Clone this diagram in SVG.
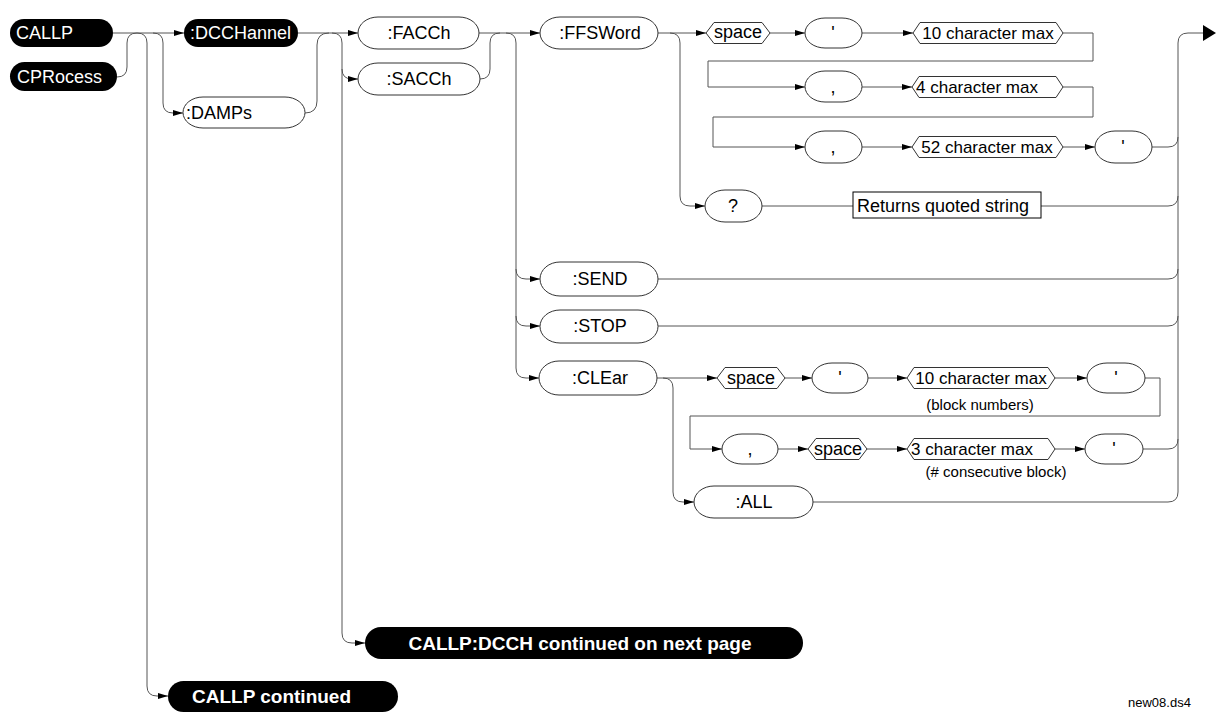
<svg xmlns="http://www.w3.org/2000/svg" width="1216" height="714" viewBox="0 0 1216 714">
<style>
.bg{fill:#fff}
.blk{fill:#000}
.wht{fill:#fff;stroke:#333;stroke-width:1}
.box{fill:#fff;stroke:#000;stroke-width:1}
.ln{fill:none;stroke:#555;stroke-width:1}
.t{font-family:"Liberation Sans",Arial,sans-serif;font-size:18px;fill:#000}
.tw{font-family:"Liberation Sans",Arial,sans-serif;font-size:18px;fill:#fff}
.tb{font-family:"Liberation Sans",Arial,sans-serif;font-size:19px;font-weight:bold;fill:#fff}
.ts{font-family:"Liberation Sans",Arial,sans-serif;font-size:17px;fill:#000}
.tp{font-family:"Liberation Sans",Arial,sans-serif;font-size:15px;fill:#000}
.tf{font-family:"Liberation Sans",Arial,sans-serif;font-size:13px;fill:#000}
.m{text-anchor:middle}
</style>
<defs>
<marker id="a" viewBox="0 0 10 6" refX="10" refY="3" markerWidth="10" markerHeight="6" orient="auto" markerUnits="userSpaceOnUse">
<path d="M0,0 L10,3 L0,6 z" fill="#000"/>
</marker>
</defs>
<rect class="bg" x="0" y="0" width="1216" height="714"/>

<g id="connectors">
<path class="ln" marker-end="url(#a)" d="M113,33 H184"/>
<path class="ln" d="M117,77 Q127,77 127,67 V43 Q127,33 137,33"/>
<path class="ln" marker-end="url(#a)" d="M137,33 Q147,33 147,43 V686 Q147,696 157,696 H168"/>
<path class="ln" marker-end="url(#a)" d="M153,33 Q163,33 163,43 V103 Q163,113 173,113 H183"/>
<path class="ln" marker-end="url(#a)" d="M298,33 H358"/>
<path class="ln" d="M305,113 Q317,113 317,101 V45 Q317,33 329,33"/>
<path class="ln" marker-end="url(#a)" d="M332,33 Q342,33 342,43 V633 Q342,643 352,643 H365"/>
<path class="ln" marker-end="url(#a)" d="M342,69 Q342,79 352,79 H358"/>
<path class="ln" marker-end="url(#a)" d="M479,33 H540"/>
<path class="ln" d="M480,79 Q490,79 490,69 V43 Q490,33 500,33"/>
<path class="ln" marker-end="url(#a)" d="M506,33 Q516,33 516,43 V368 Q516,378 526,378 H539"/>
<path class="ln" marker-end="url(#a)" d="M516,269 Q516,279 526,279 H540"/>
<path class="ln" marker-end="url(#a)" d="M516,316 Q516,326 526,326 H540"/>
<path class="ln" marker-end="url(#a)" d="M658,33 H706"/>
<path class="ln" marker-end="url(#a)" d="M670,33 Q680,33 680,43 V196 Q680,206 690,206 H705"/>
<path class="ln" marker-end="url(#a)" d="M770,33 H805"/>
<path class="ln" marker-end="url(#a)" d="M862,33 H913"/>
<path class="ln" marker-end="url(#a)" d="M1063,33 H1093 V61 H708 V87 H805"/>
<path class="ln" marker-end="url(#a)" d="M862,87 H912"/>
<path class="ln" marker-end="url(#a)" d="M1063,87 H1093 V117 H713 V147 H805"/>
<path class="ln" marker-end="url(#a)" d="M862,147 H912"/>
<path class="ln" marker-end="url(#a)" d="M1063,147 H1095"/>
<path class="ln" d="M1152,147 H1168 Q1178,147 1178,137"/>
<path class="ln" d="M1178,492 V43 Q1178,33 1188,33 H1204"/>
<path d="M1203,25 L1216,33 L1203,41 z" fill="#000"/>
<path class="ln" d="M762,206 H853"/>
<path class="ln" d="M1041,206 H1168 Q1178,206 1178,196"/>
<path class="ln" d="M658,279 H1168 Q1178,279 1178,269"/>
<path class="ln" d="M658,326 H1168 Q1178,326 1178,316"/>
<path class="ln" marker-end="url(#a)" d="M657,378 H717"/>
<path class="ln" marker-end="url(#a)" d="M663,378 Q673,378 673,388 V492 Q673,502 683,502 H694"/>
<path class="ln" marker-end="url(#a)" d="M785,378 H812"/>
<path class="ln" marker-end="url(#a)" d="M868,378 H907"/>
<path class="ln" marker-end="url(#a)" d="M1055,378 H1087"/>
<path class="ln" marker-end="url(#a)" d="M1145,378 H1160 V416 H690 V449 H722"/>
<path class="ln" marker-end="url(#a)" d="M778,449 H808"/>
<path class="ln" marker-end="url(#a)" d="M867,449 H907"/>
<path class="ln" marker-end="url(#a)" d="M1055,449 H1085"/>
<path class="ln" d="M1143,449 H1168 Q1178,449 1178,439"/>
<path class="ln" d="M813,502 H1168 Q1178,502 1178,492"/>
</g>

<g id="n-callp"><rect class="blk" x="10" y="19" width="103" height="28" rx="14"/><text class="tw" x="16" y="39">CALLP</text></g>
<g id="n-cprocess"><rect class="blk" x="10" y="62" width="107" height="29" rx="14.5"/><text class="tw" x="17" y="83">CPRocess</text></g>
<g id="n-dcchannel"><rect class="blk" x="184" y="19" width="114" height="28" rx="14"/><text class="tw" x="190" y="39">:DCCHannel</text></g>
<g id="n-damps"><rect class="wht" x="183" y="97" width="122" height="31" rx="20" ry="15.5"/><text class="t" x="186" y="119">:DAMPs</text></g>
<g id="n-facch"><rect class="wht" x="358" y="17" width="121" height="32" rx="20" ry="16"/><text class="t m" x="419" y="39">:FACCh</text></g>
<g id="n-sacch"><rect class="wht" x="358" y="63" width="122" height="32" rx="20" ry="16"/><text class="t m" x="419" y="85">:SACCh</text></g>
<g id="n-ffsword"><rect class="wht" x="540" y="17" width="118" height="32" rx="20" ry="16"/><text class="t m" x="600" y="39">:FFSWord</text></g>
<g id="n-space1"><polygon class="wht" points="706,33 714,22.5 762,22.5 770,33 762,43.5 714,43.5"/><text class="t m" x="738" y="38">space</text></g>
<g id="n-q1"><rect class="wht" x="805" y="18" width="57" height="30" rx="20" ry="15"/><text class="t m" x="833" y="39">'</text></g>
<g id="n-10max"><polygon class="wht" points="913,33 920,22.5 1056,22.5 1063,33 1056,43.5 920,43.5"/><text class="ts m" x="988" y="39">10 character max</text></g>
<g id="n-c1"><rect class="wht" x="805" y="71" width="57" height="31" rx="20" ry="15.5"/><text class="t m" x="833" y="93">,</text></g>
<g id="n-4max"><polygon class="wht" points="912,87 919,76.5 1056,76.5 1063,87 1056,97.5 919,97.5"/><text class="ts" x="916" y="93">4 character max</text></g>
<g id="n-c2"><rect class="wht" x="805" y="131" width="57" height="32" rx="20" ry="16"/><text class="t m" x="833" y="153">,</text></g>
<g id="n-52max"><polygon class="wht" points="912,147 919,136.5 1056,136.5 1063,147 1056,157.5 919,157.5"/><text class="ts m" x="987" y="153">52 character max</text></g>
<g id="n-q2"><rect class="wht" x="1095" y="131" width="57" height="32" rx="20" ry="16"/><text class="t m" x="1123" y="153">'</text></g>
<g id="n-query"><rect class="wht" x="705" y="190" width="57" height="32" rx="20" ry="16"/><text class="t m" x="733" y="212">?</text></g>
<g id="n-returns"><rect class="box" x="853" y="192" width="188" height="26"/><text class="t" x="857" y="212">Returns quoted string</text></g>
<g id="n-send"><rect class="wht" x="540" y="262" width="118" height="34" rx="20" ry="17"/><text class="t m" x="600" y="285">:SEND</text></g>
<g id="n-stop"><rect class="wht" x="540" y="310" width="118" height="33" rx="20" ry="16.5"/><text class="t m" x="600" y="332">:STOP</text></g>
<g id="n-clear"><rect class="wht" x="539" y="361" width="118" height="34" rx="20" ry="17"/><text class="t m" x="600" y="384">:CLEar</text></g>
<g id="n-space2"><polygon class="wht" points="717,378 725,367.5 777,367.5 785,378 777,388.5 725,388.5"/><text class="t m" x="751" y="384">space</text></g>
<g id="n-q3"><rect class="wht" x="812" y="363" width="56" height="30" rx="20" ry="15"/><text class="t m" x="840" y="384">'</text></g>
<g id="n-10max2"><polygon class="wht" points="907,378 914,367.5 1048,367.5 1055,378 1048,388.5 914,388.5"/><text class="ts m" x="981" y="384">10 character max</text><text class="tp m" x="980" y="410">(block numbers)</text></g>
<g id="n-q4"><rect class="wht" x="1087" y="363" width="58" height="30" rx="20" ry="15"/><text class="t m" x="1116" y="384">'</text></g>
<g id="n-c3"><rect class="wht" x="722" y="434" width="56" height="30" rx="20" ry="15"/><text class="t m" x="750" y="455">,</text></g>
<g id="n-space3"><polygon class="wht" points="808,449 816,438.5 859,438.5 867,449 859,459.5 816,459.5"/><text class="t m" x="838" y="455">space</text></g>
<g id="n-3max"><polygon class="wht" points="907,449 914,438.5 1048,438.5 1055,449 1048,459.5 914,459.5"/><text class="ts" x="911" y="455">3 character max</text><text class="tp m" x="996" y="477">(# consecutive block)</text></g>
<g id="n-q5"><rect class="wht" x="1085" y="434" width="58" height="30" rx="20" ry="15"/><text class="t m" x="1114" y="455">'</text></g>
<g id="n-all"><rect class="wht" x="694" y="486" width="119" height="32" rx="20" ry="16"/><text class="t m" x="754" y="508">:ALL</text></g>
<g id="n-dcchcont"><rect class="blk" x="365" y="627" width="438" height="32" rx="16"/><text class="tb m" x="580" y="650">CALLP:DCCH continued on next page</text></g>
<g id="n-callpcont"><rect class="blk" x="168" y="681" width="230" height="31" rx="15.5"/><text class="tb" x="192" y="703">CALLP continued</text></g>
<text class="tf" x="1128" y="707">new08.ds4</text>
</svg>
